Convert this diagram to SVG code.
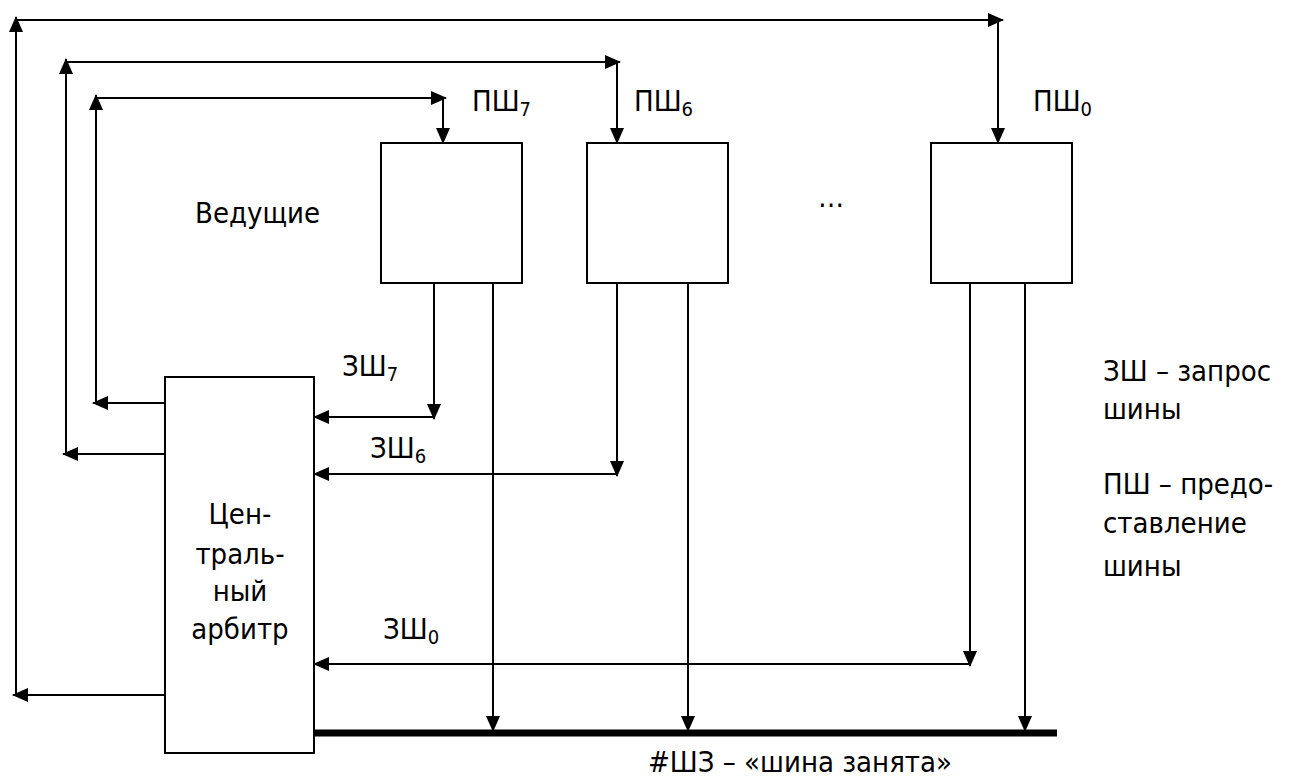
<svg xmlns="http://www.w3.org/2000/svg" width="1293" height="783" viewBox="0 0 1293 783">
<style>
.b{fill:#fff;stroke:#000;stroke-width:2}
.c line{stroke:#000;stroke-width:2;fill:none}
.a{marker-end:url(#ah)}
text{font-family:"DejaVu Sans Condensed","DejaVu Sans",sans-serif;font-size:29px;fill:#000}
.s{font-size:20px}
</style>
<defs>
<marker id="ah" markerWidth="16" markerHeight="14" refX="15" refY="7" orient="auto" markerUnits="userSpaceOnUse">
<path d="M0,0 L16,7 L0,14 Z" fill="#000"/>
</marker>
</defs>
<g class="c" id="connectors">
<line class="a" x1="165" y1="695" x2="13" y2="695"/>
<line class="a" x1="16" y1="695" x2="16" y2="17"/>
<line class="a" x1="16" y1="20" x2="1003" y2="20"/>
<line class="a" x1="998" y1="20" x2="998" y2="143"/>
<line class="a" x1="165" y1="454" x2="63" y2="454"/>
<line class="a" x1="66" y1="454" x2="66" y2="59"/>
<line class="a" x1="66" y1="62" x2="620" y2="62"/>
<line class="a" x1="617" y1="62" x2="617" y2="143"/>
<line class="a" x1="165" y1="403" x2="93" y2="403"/>
<line class="a" x1="96" y1="403" x2="96" y2="95"/>
<line class="a" x1="96" y1="98" x2="446" y2="98"/>
<line class="a" x1="443" y1="98" x2="443" y2="143"/>
<line class="a" x1="434" y1="283" x2="434" y2="419"/>
<line class="a" x1="434" y1="417" x2="314" y2="417"/>
<line class="a" x1="617" y1="283" x2="617" y2="476"/>
<line class="a" x1="617" y1="474" x2="314" y2="474"/>
<line class="a" x1="970" y1="283" x2="970" y2="666"/>
<line class="a" x1="970" y1="664" x2="314" y2="664"/>
<line class="a" x1="493" y1="283" x2="493" y2="731"/>
<line class="a" x1="688" y1="283" x2="688" y2="731"/>
<line class="a" x1="1025" y1="283" x2="1025" y2="731"/>
<line x1="313" y1="733" x2="1057" y2="733" style="stroke-width:7"/>
</g>
<g id="master7"><rect class="b" x="381" y="143" width="141" height="140"/></g>
<g id="master6"><rect class="b" x="587" y="143" width="141" height="140"/></g>
<g id="master0"><rect class="b" x="931" y="143" width="141" height="140"/></g>
<g id="arbiter">
<rect class="b" x="165" y="377" width="149" height="376"/>
<text x="240" y="524" text-anchor="middle">Цен-</text>
<text x="240" y="564" text-anchor="middle">траль-</text>
<text x="240" y="601" text-anchor="middle">ный</text>
<text x="240" y="639" text-anchor="middle">арбитр</text>
</g>
<g id="labels">
<text x="195" y="223">Ведущие</text>
<text x="818" y="207">…</text>
<text x="472" y="111">ПШ<tspan class="s" dy="5">7</tspan></text>
<text x="634" y="111">ПШ<tspan class="s" dy="5">6</tspan></text>
<text x="1033" y="111">ПШ<tspan class="s" dy="5">0</tspan></text>
<text x="342" y="376">ЗШ<tspan class="s" dy="5">7</tspan></text>
<text x="370" y="458">ЗШ<tspan class="s" dy="5">6</tspan></text>
<text x="383" y="639">ЗШ<tspan class="s" dy="5">0</tspan></text>
<text x="1103" y="381">ЗШ – запрос</text>
<text x="1103" y="419">шины</text>
<text x="1103" y="494">ПШ – предо-</text>
<text x="1103" y="533">ставление</text>
<text x="1103" y="576">шины</text>
<text x="648" y="772">#ШЗ – «шина занята»</text>
</g>
</svg>
